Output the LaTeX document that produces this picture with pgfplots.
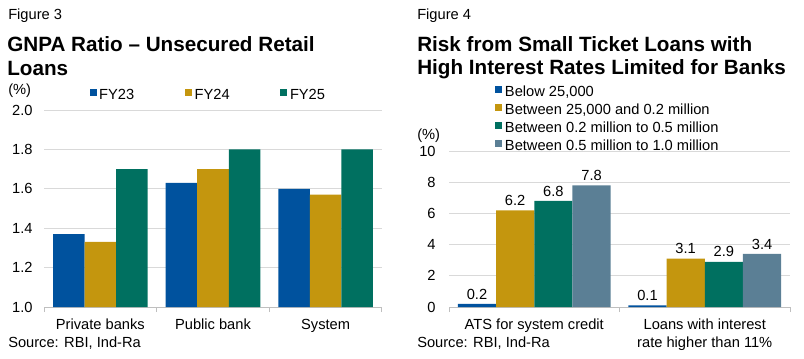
\documentclass[border=0pt]{standalone}
\usepackage{pgfplots}
\pgfplotsset{compat=1.18}
\usepackage{fontspec}
\setmainfont{Liberation Sans}
\definecolor{cA}{RGB}{0,82,158}
\definecolor{cB}{RGB}{196,150,14}
\definecolor{cC}{RGB}{0,112,96}
\definecolor{cD}{RGB}{91,127,149}
\definecolor{gridc}{RGB}{217,217,217}
\definecolor{axc}{RGB}{191,191,191}
\newcommand{\lbl}{\fontsize{11}{13.5}\selectfont}
\newcommand{\ttl}{\fontsize{15.5}{18}\selectfont\bfseries}
\begin{document}
\begin{tikzpicture}[x=0.75pt,y=0.75pt]
\path[use as bounding box] (0,0) rectangle (804,358);
\pgfplotsset{
  base/.style={
    scale only axis, ybar=0pt,
    axis x line*=bottom, axis y line*=left,
    y axis line style={draw=none},
    x axis line style={draw=axc, line width=0.75pt},
    tick align=outside,
    major tick length=0pt,
    minor tick length=3.75pt,
    major x tick style={draw=none},
    minor x tick style={draw=axc, line width=0.75pt},
    ytick style={draw=none},
    ymajorgrids, grid style={draw=gridc, line width=0.75pt},
    tick label style={font=\lbl},
    /pgf/number format/assume math mode=true,
    xticklabel style={yshift=-5.5pt},
    legend cell align=left,
    legend style={draw=none, fill=none, font=\lbl, inner sep=0pt},
    legend image code/.code={\fill[##1] (0pt,-0.6pt) rectangle (5.25pt,4.65pt);},
  },
}
\begin{axis}[base, at={(33pt,38.25pt)}, anchor=south west,
  width=253.5pt, height=147.75pt,
  xmin=-0.5, xmax=2.5, ymin=1, ymax=2,
  bar width=0.28,
  xtick={0,1,2}, xticklabels={Private banks,Public bank,System},
  minor xtick={-0.5,0.5,1.5,2.5},
  ytick={1,1.2,1.4,1.6,1.8,2},
  yticklabel style={xshift=-5pt, /pgf/number format/fixed, /pgf/number format/fixed zerofill, /pgf/number format/precision=1},
  legend columns=3,
  legend style={at={(axis description cs:0.134,1.074)}, anchor=west,
    /tikz/every even column/.append style={column sep=36pt}},
]
\addplot[fill=cA, draw=none] coordinates {(0,1.37) (1,1.63) (2,1.60)};
\addplot[fill=cB, draw=none] coordinates {(0,1.33) (1,1.70) (2,1.57)};
\addplot[fill=cC, draw=none] coordinates {(0,1.70) (1,1.80) (2,1.80)};
\legend{FY23,FY24,FY25}
\end{axis}

\begin{axis}[base, at={(336.75pt,38.25pt)}, anchor=south west,
  width=255.75pt, height=117pt,
  xmin=-0.5, xmax=1.5, ymin=0, ymax=10,
  bar width=0.224,
  xtick={0,1}, xticklabels={ATS for system credit,{Loans with interest\\rate higher than 11\%}},
  xticklabel style={align=center},
  minor xtick={-0.5,0.5,1.5},
  ytick={0,2,4,6,8,10},
  yticklabel style={xshift=-6.5pt},
  nodes near coords,
  nodes near coords style={font=\lbl, /pgf/number format/fixed, /pgf/number format/fixed zerofill, /pgf/number format/precision=1},
  legend columns=1,
  legend style={at={(axis description cs:0.135,0.97)}, anchor=south west,
    /tikz/every row/.append style={row sep=0pt}},
]
\addplot[fill=cA, draw=none] coordinates {(0,0.2) (1,0.1)};
\addplot[fill=cB, draw=none] coordinates {(0,6.2) (1,3.1)};
\addplot[fill=cC, draw=none] coordinates {(0,6.8) (1,2.9)};
\addplot[fill=cD, draw=none] coordinates {(0,7.8) (1,3.4)};
\legend{{Below 25,000},{Between 25,000 and 0.2 million},{Between 0.2 million to 0.5 million},{Between 0.5 million to 1.0 million}}
\end{axis}

\node[anchor=base west, font=\lbl, inner sep=0pt] at (8,339) {Figure 3};
\node[anchor=base west, font=\lbl, inner sep=0pt] at (417,339) {Figure 4};
\node[anchor=base west, font=\ttl, inner sep=0pt] at (7,306) {GNPA Ratio – Unsecured Retail};
\node[anchor=base west, font=\ttl, inner sep=0pt] at (7,282) {Loans};
\node[anchor=base west, font=\ttl, inner sep=0pt] at (417,306) {Risk from Small Ticket Loans with};
\node[anchor=base west, font=\ttl, inner sep=0pt] at (417,283) {High Interest Rates Limited for Banks};
\node[anchor=base west, font=\lbl, inner sep=0pt] at (8,263) {(\%)};
\node[anchor=base west, font=\lbl, inner sep=0pt] at (417,219) {(\%)};
\node[anchor=base west, font=\lbl, inner sep=0pt] at (8,11) {Source: RBI, Ind-Ra};
\node[anchor=base west, font=\lbl, inner sep=0pt] at (417,11) {Source: RBI, Ind-Ra};
\end{tikzpicture}
\end{document}
